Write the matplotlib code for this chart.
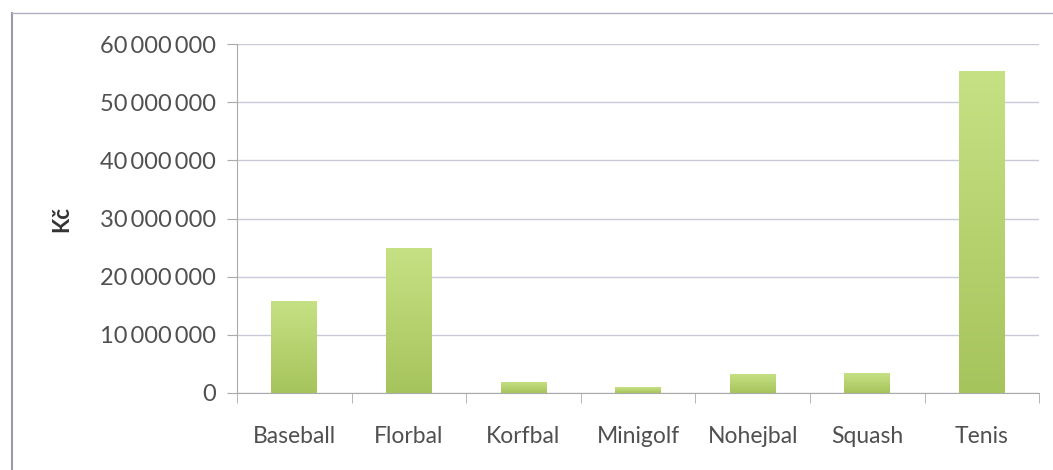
import matplotlib.pyplot as plt
from matplotlib.lines import Line2D
from matplotlib.colors import LinearSegmentedColormap
import matplotlib.ticker as ticker
import numpy as np

plt.rcParams['font.family'] = ['Lato', 'DejaVu Sans']

# data
sports = ['Baseball', 'Florbal', 'Korfbal', 'Minigolf', 'Nohejbal', 'Squash', 'Tenis']
amounts = [15900000, 24900000, 1900000, 1000000, 3300000, 3400000, 55300000]
yticks = [0, 10000000, 20000000, 30000000, 40000000, 50000000, 60000000]

fig = plt.figure(figsize=(10.53, 4.70), dpi=100)
ax = fig.add_axes([0.225, 0.164, 0.762, 0.742])

x = np.arange(len(sports))
bars = ax.bar(x, amounts, width=0.4, color='#b3d16a', zorder=3)

# soft vertical gradient inside each bar, lighter at the top
green = LinearSegmentedColormap.from_list('g', ['#a6c45c', '#c6e184'])
grad = np.linspace(0, 1, 256).reshape(-1, 1)
for b in bars:
    bx, by = b.get_x(), b.get_y()
    bw, bh = b.get_width(), b.get_height()
    im = ax.imshow(grad, cmap=green, aspect='auto', origin='lower',
                   extent=[bx, bx + bw, by, by + bh], zorder=3)
    im.set_clip_path(b)

ax.set_xlim(-0.5, len(sports) - 0.5)
ax.set_ylim(0, 60000000)
ax.set_yticks(yticks)
ax.yaxis.set_major_formatter(ticker.FuncFormatter(lambda v, p: '{:,}'.format(int(v)).replace(',', '\u2009')))
ax.set_xticks(x)
ax.set_xticklabels(sports)
ax.set_xticks(np.arange(len(sports) + 1) - 0.5, minor=True)

ax.grid(axis='y', color='#c9c9d9', linewidth=1, zorder=0)
ax.tick_params(axis='x', which='major', length=0, pad=24, labelsize=16.5, labelcolor='#505050')
ax.tick_params(axis='x', which='minor', length=7, color='#aaaaaa')
ax.tick_params(axis='y', length=7, color='#aaaaaa', labelsize=17, labelcolor='#505050', pad=8)

for s in ['top', 'right']:
    ax.spines[s].set_visible(False)
ax.spines['left'].set_color('#aaaaaa')
ax.spines['bottom'].set_color('#aaaaaa')

ax.set_ylabel('Kč', fontsize=16, fontweight='bold', color='#333333', labelpad=20)

# outer frame of the chart area (left and top edges)
fig.add_artist(Line2D([0.0115, 0.0115], [0, 0.973], color='#9a9aa8', linewidth=1.5))
fig.add_artist(Line2D([0.0115, 1.0], [0.973, 0.973], color='#b0b0c0', linewidth=1))

plt.savefig('out.png', dpi=100)
